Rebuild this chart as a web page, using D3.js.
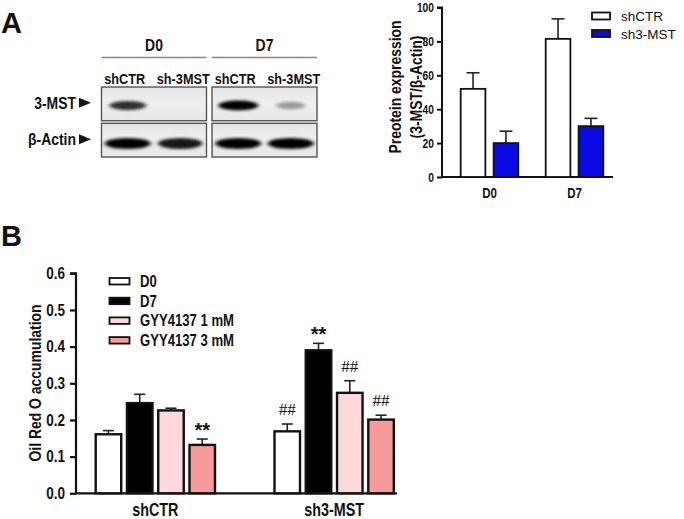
<!DOCTYPE html>
<html>
<head>
<meta charset="utf-8">
<script src="https://cdn.jsdelivr.net/npm/d3@7"></script>
<style>
  html, body { margin: 0; padding: 0; background: #fff; }
  svg { display: block; }
  text { font-family: "Liberation Sans", Arial, sans-serif; font-weight: bold; fill: #111; }
</style>
</head>
<body>
<div id="chart"></div>
<script>
// ---------- Data ----------
// Panel A: western blot
const blotGroups = ["D0", "D7"];
const blotLanes = ["shCTR", "sh-3MST"];
const blotRows = ["3-MST", "β-Actin"];
// band intensities (0..1) per row, group, lane
const band3MST = [[0.8, 0.0], [1.0, 0.35]];
const bandActin = [[1.0, 0.9], [1.0, 1.0]];

// Panel A: bar chart
const expGroups = ["D0", "D7"];
const expSeries = ["shCTR", "sh3-MST"];
const expMeans = [[52, 81.5], [20, 30]];   // [series][group]
const expErr = [[9.5, 11.8], [7, 4.6]];
const expTicks = [0, 20, 40, 60, 80, 100];

// Panel B
const oilGroups = ["shCTR", "sh3-MST"];
const oilSeries = ["D0", "D7", "GYY4137 1 mM", "GYY4137 3 mM"];
const oilMeans = [[0.161, 0.169], [0.246, 0.39], [0.226, 0.274], [0.132, 0.201]]; // [series][group]
const oilErr = [[0.01, 0.02], [0.024, 0.019], [0.006, 0.033], [0.016, 0.012]];
const oilMarks = [["", "##"], ["", "**"], ["", "##"], ["**", "##"]];
const oilTicks = [0.0, 0.1, 0.2, 0.3, 0.4, 0.5, 0.6];

const W = 684, H = 519;
const svg = d3.select("#chart").append("svg").attr("width", W).attr("height", H);
const defs = svg.append("defs");

// ---------- Panel letters ----------
svg.append("text").attr("x", 1).attr("y", 33).text("A").style("font-size", "29px");
svg.append("text").attr("x", 1).attr("y", 246).text("B").style("font-size", "29px");

// ---------- Western blot ----------
const blur = defs.append("filter").attr("id", "blur").attr("x", "-30%").attr("y", "-100%").attr("width", "160%").attr("height", "300%");
blur.append("feGaussianBlur").attr("stdDeviation", "2.2 1.5");
const grad = defs.append("linearGradient").attr("id", "blotbg").attr("x1", 0).attr("x2", 0).attr("y1", 0).attr("y2", 1);
grad.append("stop").attr("offset", "0%").attr("stop-color", "#e4e4e4");
grad.append("stop").attr("offset", "50%").attr("stop-color", "#f0f0f0");
grad.append("stop").attr("offset", "100%").attr("stop-color", "#e6e6e6");

const blotX = d3.scaleBand().domain(blotGroups).range([101.5, 317]).paddingInner(0.05);
const laneX = d3.scaleBand().domain(blotLanes).range([0, blotX.bandwidth()]);
const rowY = d3.scaleBand().domain(blotRows).range([87, 157]).paddingInner(0.07);
const bandData = [band3MST, bandActin];
const laneLabelShift = [-3, 3];

blotGroups.forEach((g, gi) => {
  const gx = blotX(g);
  svg.append("text").attr("class", "n").attr("x", gx + blotX.bandwidth() / 2).attr("y", 51)
    .attr("text-anchor", "middle").style("font-size", "17px").text(g);
  svg.append("line").attr("x1", gx).attr("x2", gx + blotX.bandwidth())
    .attr("y1", 57.5).attr("y2", 57.5).attr("stroke", "#888").attr("stroke-width", 1.3);
  blotLanes.forEach((l, li) => {
    svg.append("text").attr("class", "n").attr("x", gx + laneX(l) + laneX.bandwidth() / 2 + laneLabelShift[li]).attr("y", 84)
      .attr("text-anchor", "middle").style("font-size", "15.5px").text(l);
  });
  blotRows.forEach((r, ri) => {
    svg.append("rect").attr("x", gx).attr("y", rowY(r))
      .attr("width", blotX.bandwidth()).attr("height", rowY.bandwidth())
      .attr("fill", "url(#blotbg)").attr("stroke", "#555").attr("stroke-width", 1.4);
    blotLanes.forEach((l, li) => {
      const v = bandData[ri][gi][li];
      if (v <= 0) return;
      svg.append("ellipse")
        .attr("cx", gx + laneX(l) + laneX.bandwidth() / 2)
        .attr("cy", rowY(r) + rowY.bandwidth() * (ri === 0 ? 0.55 : 0.6))
        .attr("rx", laneX.bandwidth() * (ri === 0 ? 0.38 : 0.44) * (0.6 + 0.4 * v))
        .attr("ry", ri === 0 ? 3 + 2 * v : 5.5)
        .attr("fill", "#000").attr("opacity", Math.min(1, v))
        .attr("filter", "url(#blur)");
    });
  });
});
blotRows.forEach((r) => {
  const cy = rowY(r) + rowY.bandwidth() / 2 + 5;
  svg.append("text").attr("class", "n").attr("x", 76).attr("y", cy).attr("text-anchor", "end")
    .style("font-size", "17px").text(r);
  svg.append("path").attr("d", `M79,${cy - 11} L91,${cy - 6} L79,${cy - 1} Z`).attr("fill", "#111");
});

// ---------- Panel A bar chart ----------
const yA = d3.scaleLinear().domain([0, 100]).range([177, 7.5]);
const xA = d3.scaleBand().domain(expGroups).range([447, 617]);
const xAs = d3.scaleBand().domain(expSeries).range([-28.8, 28.8]).paddingInner(0.25);
const colA = ["#ffffff", "#0a0ae6"];
const gA = svg.append("g");

const axA = gA.append("g").attr("transform", "translate(442,0)")
  .call(d3.axisLeft(yA).tickValues(expTicks).tickSize(5).tickPadding(3).tickFormat(d3.format("d")));
axA.select(".domain").attr("stroke", "#111").attr("stroke-width", 2).attr("d", `M-5,${yA(100)}H0V${yA(0)}`);
axA.selectAll(".tick line").attr("stroke", "#111").attr("stroke-width", 2);
axA.selectAll(".tick text").attr("class", "n").style("font-size", "12.5px").attr("fill", "#111")
  .style("font-family", "'Liberation Sans',Arial,sans-serif").style("font-weight", "bold");
gA.append("line").attr("x1", 441).attr("x2", 613).attr("y1", yA(0)).attr("y2", yA(0))
  .attr("stroke", "#111").attr("stroke-width", 2);
expGroups.forEach((g) => {
  gA.append("text").attr("class", "n").attr("x", xA(g) + xA.bandwidth() / 2).attr("y", 198)
    .attr("text-anchor", "middle").style("font-size", "14px").text(g);
});
expSeries.forEach((s, si) => {
  expGroups.forEach((g, gi) => {
    const cx = xA(g) + xA.bandwidth() / 2;
    const x0 = cx + xAs(s);
    const m = expMeans[si][gi], e = expErr[si][gi];
    const xc = x0 + xAs.bandwidth() / 2;
    gA.append("line").attr("x1", xc).attr("x2", xc).attr("y1", yA(m)).attr("y2", yA(m + e))
      .attr("stroke", "#222").attr("stroke-width", 1.6);
    gA.append("line").attr("x1", xc - 6.5).attr("x2", xc + 6.5).attr("y1", yA(m + e)).attr("y2", yA(m + e))
      .attr("stroke", "#222").attr("stroke-width", 1.6);
    gA.append("rect").attr("x", x0).attr("y", yA(m)).attr("width", xAs.bandwidth())
      .attr("height", yA(0) - yA(m)).attr("fill", colA[si]).attr("stroke", "#111").attr("stroke-width", 1.8);
  });
});
// axis title (two lines)
gA.append("text").attr("class", "n").attr("transform", "translate(401,87) rotate(-90)").attr("text-anchor", "middle")
  .style("font-size", "17px").text("Preotein expression");
gA.append("text").attr("class", "n").attr("transform", "translate(422,87) rotate(-90)").attr("text-anchor", "middle")
  .style("font-size", "17px").text("(3-MST/β-Actin)");
// legend
expSeries.forEach((s, si) => {
  const ly = 12.5 + si * 17.5;
  gA.append("rect").attr("x", 592).attr("y", ly).attr("width", 18).attr("height", 7)
    .attr("fill", colA[si]).attr("stroke", "#111").attr("stroke-width", 1.8);
  gA.append("text").attr("x", 621).attr("y", ly + 8.5).style("font-size", "13.5px")
    .style("font-weight", "normal").text(s);
});

// ---------- Panel B ----------
const yB = d3.scaleLinear().domain([0, 0.6]).range([493.3, 273.3]);
const xB = d3.scaleBand().domain(oilGroups).range([65.95, 423.55]);
const xBs = d3.scaleBand().domain(oilSeries).range([-59.65, 59.65]).paddingInner(0.184);
const colB = ["#ffffff", "#000000", "#fdd9dc", "#f79a9b"];
const gB = svg.append("g");

const axB = gB.append("g").attr("transform", "translate(76,0)")
  .call(d3.axisLeft(yB).tickValues(oilTicks).tickSize(6).tickPadding(5).tickFormat(d3.format(".1f")));
axB.select(".domain").attr("stroke", "#111").attr("stroke-width", 2.2).attr("d", `M-6,${yB(0.6)}H0V${yB(0)}`);
axB.selectAll(".tick line").attr("stroke", "#111").attr("stroke-width", 2.2);
axB.selectAll(".tick text").attr("class", "n").style("font-size", "16.5px").attr("fill", "#111")
  .style("font-family", "'Liberation Sans',Arial,sans-serif").style("font-weight", "bold");
gB.append("line").attr("x1", 75).attr("x2", 397).attr("y1", yB(0)).attr("y2", yB(0))
  .attr("stroke", "#111").attr("stroke-width", 2.2);
oilGroups.forEach((g) => {
  gB.append("text").attr("class", "n").attr("x", xB(g) + xB.bandwidth() / 2).attr("y", 516)
    .attr("text-anchor", "middle").style("font-size", "17.5px").text(g);
});
oilSeries.forEach((s, si) => {
  oilGroups.forEach((g, gi) => {
    const cx = xB(g) + xB.bandwidth() / 2;
    const x0 = cx + xBs(s);
    const m = oilMeans[si][gi], e = oilErr[si][gi];
    const xc = x0 + xBs.bandwidth() / 2;
    gB.append("line").attr("x1", xc).attr("x2", xc).attr("y1", yB(m)).attr("y2", yB(m + e))
      .attr("stroke", "#222").attr("stroke-width", 1.6);
    gB.append("line").attr("x1", xc - 5.5).attr("x2", xc + 5.5).attr("y1", yB(m + e)).attr("y2", yB(m + e))
      .attr("stroke", "#222").attr("stroke-width", 1.6);
    gB.append("rect").attr("x", x0).attr("y", yB(m)).attr("width", xBs.bandwidth())
      .attr("height", yB(0) - yB(m)).attr("fill", colB[si]).attr("stroke", "#111").attr("stroke-width", 2.4);
    const mk = oilMarks[si][gi];
    if (mk === "**") {
      gB.append("text").attr("x", xc).attr("y", yB(m + e) - 2).attr("text-anchor", "middle")
        .style("font-size", "20px").text(mk);
    } else if (mk === "##") {
      gB.append("text").attr("x", xc).attr("y", yB(m + e) - 9).attr("text-anchor", "middle")
        .style("font-family", "'Liberation Serif', 'Times New Roman', serif").style("font-weight", "normal")
        .style("font-size", "17px").attr("fill", "#222").text(mk);
    }
  });
});
gB.append("text").attr("class", "n").attr("transform", "translate(41,383) rotate(-90)").attr("text-anchor", "middle")
  .style("font-size", "17px").text("Oil Red O accumulation");
oilSeries.forEach((s, si) => {
  const ly = 278 + si * 19.7;
  gB.append("rect").attr("x", 109.5).attr("y", ly).attr("width", 20).attr("height", 6.5)
    .attr("fill", colB[si]).attr("stroke", "#111").attr("stroke-width", 1.8);
  gB.append("text").attr("class", "n").attr("x", 140).attr("y", ly + 9).style("font-size", "16px").text(s);
});

// condense bold labels horizontally (the original uses a narrow sans face)
svg.selectAll("text.n").each(function () {
  const t = d3.select(this);
  const x = +(t.attr("x") || 0), y = +(t.attr("y") || 0), dy = t.attr("dy");
  const base = t.attr("transform") || "";
  t.attr("x", 0).attr("y", 0)
    .attr("transform", `${base} translate(${x},${y}) scale(0.82,1)`);
  if (dy) t.attr("dy", dy);
});
</script>
</body>
</html>
